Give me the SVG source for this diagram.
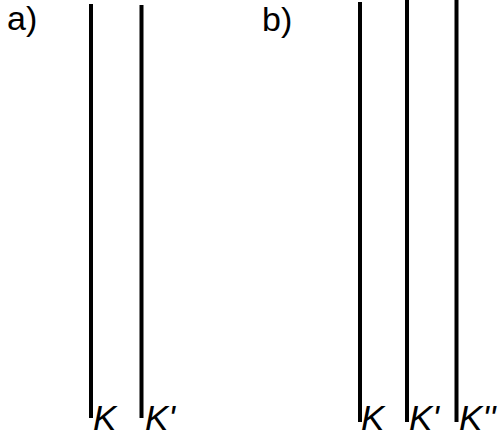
<svg xmlns="http://www.w3.org/2000/svg" width="500" height="438" viewBox="0 0 500 438">
<style>
.ln{stroke:#000;stroke-width:4;fill:none}
.lbl{font-family:"Liberation Sans",Arial,sans-serif;font-size:34px;fill:#000}
.it{font-style:italic;font-size:35px}
</style>
<rect width="500" height="438" fill="#fff"/>
<text class="lbl" x="7" y="29.5">a)</text>
<text class="lbl" x="262" y="30.5">b)</text>
<g id="connectors">
<line id="a-K" class="ln" x1="91" y1="4" x2="91" y2="418"/>
<line id="a-K1" class="ln" x1="141.5" y1="5" x2="141.5" y2="418"/>
<line id="b-K" class="ln" x1="360" y1="2" x2="360" y2="422"/>
<line id="b-K1" class="ln" x1="407" y1="0" x2="407" y2="422"/>
<line id="b-K2" class="ln" x1="456.5" y1="0" x2="456.5" y2="422"/>
</g>
<g id="label-a-K"><text class="lbl it" x="93" y="430">K</text></g>
<g id="label-a-K1"><text class="lbl it" x="145" y="430">K'</text></g>
<g id="label-b-K"><text class="lbl it" x="361" y="430">K</text></g>
<g id="label-b-K1"><text class="lbl it" x="409" y="430">K'</text></g>
<g id="label-b-K2"><text class="lbl it" x="459" y="430">K''</text></g>
</svg>
